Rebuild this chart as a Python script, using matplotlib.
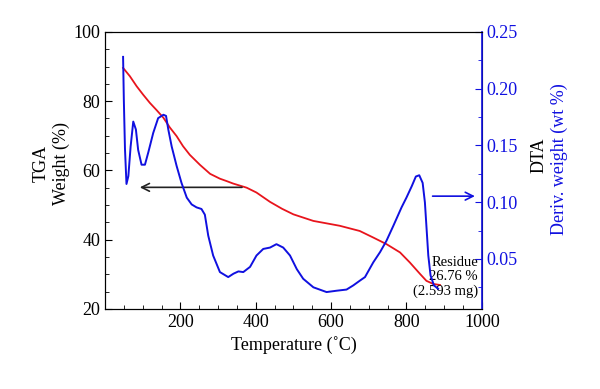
import matplotlib
matplotlib.use("Agg")
import matplotlib.pyplot as plt
from matplotlib.ticker import MultipleLocator

plt.rcParams["font.family"] = ["Liberation Serif", "DejaVu Serif"]

BLUE = "#1010e0"
RED = "#e8141c"

# TGA weight loss (left axis)
tga_temp = [48, 66, 84, 101, 119, 137, 155, 172, 190, 207, 225, 252, 279,
            305, 323, 340, 376, 402, 438, 470, 500, 553, 623, 676, 712, 747,
            783, 809, 836, 853, 871, 889]
tga_weight = [89.6, 87.2, 84.3, 81.9, 79.5, 77.4, 75.2, 72.4, 69.9, 67.0,
              64.5, 61.6, 59.0, 57.6, 56.9, 56.2, 55.0, 53.6, 50.9, 48.9,
              47.3, 45.4, 44.0, 42.5, 40.6, 38.7, 36.3, 33.4, 30.1, 28.1,
              27.2, 26.9]

# DTA derivative weight (right axis)
dta_temp = [48, 50, 53, 57, 62, 68, 75, 82, 88, 97, 106, 115, 128, 141,
            155, 162, 168, 177, 190, 203, 217, 230, 243, 256, 265, 274, 287,
            305, 327, 341, 354, 367, 385, 402, 420, 438, 455, 473, 491, 509,
            526, 553, 588, 615, 641, 659, 677, 690, 712, 730, 747, 765, 787,
            800, 814, 825, 834, 843, 849, 853, 858, 864, 873, 884]
dta_value = [0.228, 0.19, 0.147, 0.116, 0.123, 0.149, 0.171, 0.164, 0.146,
             0.133, 0.133, 0.144, 0.161, 0.174, 0.177, 0.176, 0.164, 0.149,
             0.132, 0.117, 0.104, 0.098, 0.0954, 0.094, 0.089, 0.0705, 0.053,
             0.0384, 0.034, 0.037, 0.039, 0.0384, 0.043, 0.053, 0.0588, 0.060,
             0.063, 0.060, 0.053, 0.041, 0.0325, 0.025, 0.0208, 0.022, 0.023,
             0.0267, 0.031, 0.034, 0.047, 0.056, 0.066, 0.079, 0.0954, 0.104,
             0.114, 0.1226, 0.1237, 0.117, 0.0998, 0.079, 0.053, 0.0354,
             0.0267, 0.0237]

fig = plt.figure(figsize=(6.0, 3.89), dpi=100)
ax = fig.add_axes([0.175, 0.206, 0.628, 0.712])
ax2 = ax.twinx()

ax.plot(tga_temp, tga_weight, color=RED, lw=1.3, solid_joinstyle="round")
ax2.plot(dta_temp, dta_value, color=BLUE, lw=1.4, solid_joinstyle="round")

ax.set_xlim(0, 1000)
ax.set_ylim(20, 100)
ax2.set_ylim(0.006, 0.25)

ax.xaxis.set_major_locator(MultipleLocator(200))
ax.xaxis.set_minor_locator(MultipleLocator(50))
ax.yaxis.set_major_locator(MultipleLocator(20))
ax.yaxis.set_minor_locator(MultipleLocator(5))
ax2.yaxis.set_major_locator(MultipleLocator(0.05))
ax2.yaxis.set_minor_locator(MultipleLocator(0.025))

ax.set_xticks([200, 400, 600, 800, 1000])
ax.tick_params(axis="both", which="both", direction="in", labelsize=13, top=False)
ax.tick_params(which="major", length=5)
ax.tick_params(which="minor", length=3)
ax2.tick_params(axis="y", which="both", direction="in", colors=BLUE, labelsize=13)
ax2.tick_params(which="major", length=5)
ax2.tick_params(which="minor", length=3)
ax2.set_yticks([0.05, 0.10, 0.15, 0.20, 0.25])
ax2.set_yticklabels(["0.05", "0.10", "0.15", "0.20", "0.25"])
ax2.spines["right"].set_color(BLUE)
ax2.spines["right"].set_linewidth(1.2)

ax.set_xlabel("Temperature (˚C)", fontsize=13)

fig.text(0.068, 0.58, "TGA", rotation=90, fontsize=13, ha="center", va="center")
fig.text(0.102, 0.58, "Weight (%)", rotation=90, fontsize=13, ha="center", va="center")
fig.text(0.898, 0.60, "DTA", rotation=90, fontsize=13, ha="center", va="center")
fig.text(0.932, 0.59, "Deriv. weight (wt %)", rotation=90, fontsize=13,
         ha="center", va="center", color=BLUE)

ax.annotate("", xy=(85, 55.1), xytext=(371, 55.1),
            arrowprops=dict(arrowstyle="->", color="#222222", lw=1.2,
                            mutation_scale=14))
ax2.annotate("", xy=(989, 0.1053), xytext=(862, 0.1053),
             arrowprops=dict(arrowstyle="->", color=BLUE, lw=1.2,
                             mutation_scale=14))

ax.text(990, 29.2, "Residue\n26.76 %\n(2.593 mg)", fontsize=10.5,
        ha="right", va="center", linespacing=1.15)

fig.savefig("out.png", dpi=100)
